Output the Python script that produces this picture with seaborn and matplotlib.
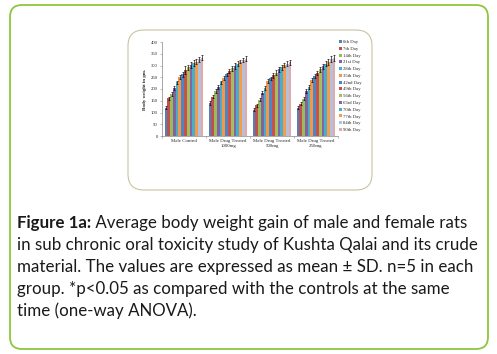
import numpy as np
import pandas as pd
import matplotlib
matplotlib.use("Agg")
import matplotlib.pyplot as plt
import seaborn as sns
from matplotlib.patches import FancyBboxPatch

groups = ["Male Control", "Male Drug Treated\n1000mg", "Male Drug Treated\n500mg",
          "Male Drug Treated\n250mg"]
days = ["0th Day", "7th Day", "14th Day", "21st Day", "28th Day", "35th Day", "42nd Day",
        "49th Day", "56th Day", "63rd Day", "70th Day", "77th Day", "84th Day", "90th Day"]

control = [121, 160, 179, 205, 228, 250, 262, 281, 292, 302, 311, 317, 326, 334]
drug_1000 = [140, 168, 192, 210, 228, 248, 262, 276, 288, 298, 308, 317, 323, 329]
drug_500 = [112, 130, 155, 185, 205, 235, 245, 258, 270, 283, 292, 302, 308, 313]
drug_250 = [120, 138, 158, 190, 210, 238, 255, 268, 283, 297, 308, 316, 327, 333]

sd_control = [5, 8, 8, 8, 8, 8, 10, 18, 12, 12, 12, 10, 10, 10]
sd_1000 = [8, 8, 8, 8, 8, 8, 8, 10, 10, 12, 10, 8, 8, 10]
sd_500 = [6, 8, 8, 8, 8, 8, 8, 10, 12, 12, 12, 10, 10, 10]
sd_250 = [6, 6, 6, 8, 8, 8, 8, 8, 10, 10, 10, 12, 12, 12]

colors = ["#4F81BD", "#C0504D", "#9BBB59", "#8064A2", "#4BACC6", "#F79646", "#4A86C8",
          "#C9504C", "#A2C05C", "#8664AA", "#46AFCB", "#F89A48", "#B2C2DE", "#E3A9A8"]

caption_bold = "Figure 1a:"
caption_lines = [
    " Average body weight gain of male and female rats",
    "in sub chronic oral toxicity study of Kushta Qalai and its crude",
    "material. The values are expressed as mean \u00b1 SD. n=5 in each",
    "group. *p<0.05 as compared with the controls at the same",
    "time (one-way ANOVA).",
]

values = [control, drug_1000, drug_500, drug_250]
sds = [sd_control, sd_1000, sd_500, sd_250]
rows = []
for g, vals in zip(groups, values):
    for d, v in zip(days, vals):
        rows.append({"group": g, "day": d, "weight": v})
df = pd.DataFrame(rows)

sns.set_theme(style="white")
plt.rcParams["font.family"] = ["Liberation Serif", "DejaVu Serif"]

fig = plt.figure(figsize=(4.97, 3.54), dpi=100)
fig.patch.set_facecolor("white")

# background frames in pixel units
bg = fig.add_axes([0, 0, 1, 1], zorder=-5)
bg.set_xlim(0, 497)
bg.set_ylim(354, 0)
bg.axis("off")
bg.add_patch(FancyBboxPatch((10, 5), 478, 344, boxstyle="round,pad=0,rounding_size=12",
                            ec="#8DC63F", fc="white", lw=1.3))
bg.add_patch(FancyBboxPatch((128, 30), 244, 160, boxstyle="round,pad=0,rounding_size=16",
                            ec="#C8C4A0", fc="white", lw=0.8))

ax = fig.add_axes([162 / 497, 1 - 136 / 354, 176 / 497, 94 / 354])
sns.barplot(data=df, x="group", y="weight", hue="day", palette=colors, width=0.88,
            errorbar=None, saturation=1, linewidth=0, ax=ax)

bar_sets = list(ax.containers)
for i, cont in enumerate(bar_sets):
    for j, bar in enumerate(cont):
        x = bar.get_x() + bar.get_width() / 2
        ax.errorbar(x, bar.get_height(), yerr=sds[j][i], fmt="none", ecolor="black",
                    elinewidth=0.45, capsize=0.9, capthick=0.45)

ax.set_ylim(0, 400)
ax.set_yticks(range(0, 401, 50))
ax.set_xlim(-0.5, 3.5)
ax.set_xlabel("")
ax.set_ylabel("Body weight in gm.", fontsize=3.6, fontweight="bold", labelpad=3)
ax.tick_params(axis="y", labelsize=3.4, length=1.5, width=0.4, color="#868686", pad=1.5,
               left=True)
ax.tick_params(axis="x", labelsize=3.5, length=0, pad=2.5)
ax.set_xticks([-0.5, 0.5, 1.5, 2.5, 3.5], minor=True)
ax.tick_params(axis="x", which="minor", length=1.5, width=0.4, color="#868686", bottom=True)
for s in ["top", "right"]:
    ax.spines[s].set_visible(False)
for s in ["left", "bottom"]:
    ax.spines[s].set_color("#868686")
    ax.spines[s].set_linewidth(0.5)

ax.legend(loc="upper left", bbox_to_anchor=(339 / 497, 1 - 40 / 354),
          bbox_transform=fig.transFigure, frameon=False, fontsize=3.4,
          handlelength=0.6, handleheight=0.6, handletextpad=0.3, labelspacing=0.55,
          borderaxespad=0, borderpad=0)

# caption
cap_font = ["Lato", "DejaVu Sans"]
fs = 12.2
t0 = bg.text(17, 228, caption_bold, fontsize=fs, fontweight="bold", family=cap_font,
             color="#1a1a1a", va="baseline", ha="left")
bg.annotate(caption_lines[0], xy=(1, 0), xycoords=t0, fontsize=fs, family=cap_font,
            color="#1a1a1a", va="bottom", ha="left")
for k, line in enumerate(caption_lines[1:], start=1):
    bg.text(17, 228 + 22 * k, line, fontsize=fs, family=cap_font, color="#1a1a1a",
            va="baseline", ha="left")

fig.savefig("out.png", dpi=100, facecolor="white")
